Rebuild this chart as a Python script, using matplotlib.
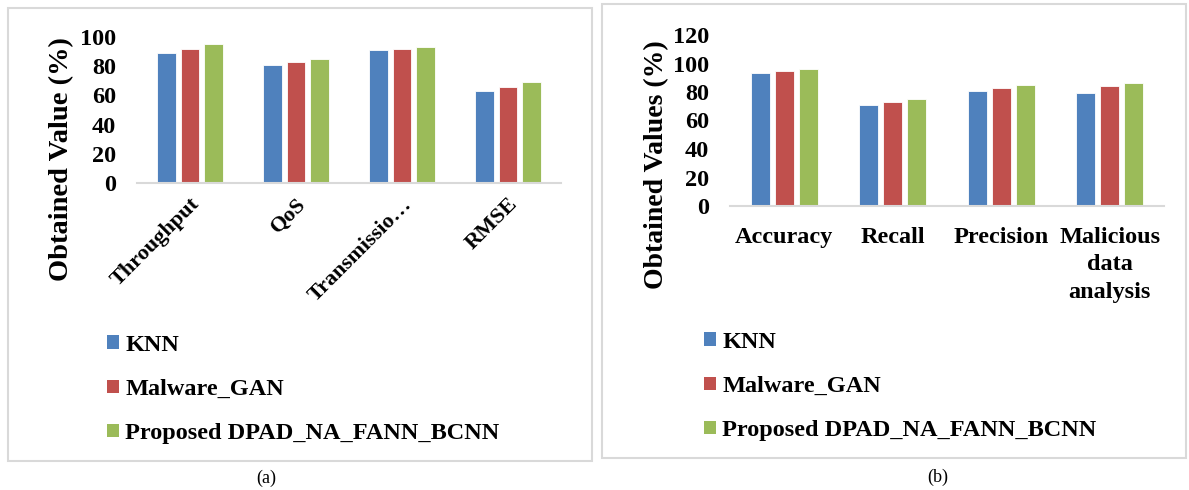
# Two grouped bar charts, (a) network metrics and (b) detection metrics
import matplotlib
matplotlib.use("Agg")
import matplotlib.pyplot as plt
import numpy as np
from matplotlib.patches import Rectangle, Patch

plt.rcParams['font.family'] = ['Liberation Serif', 'DejaVu Serif']
plt.rcParams['font.weight'] = 'bold'
plt.rcParams['axes.labelweight'] = 'bold'

# --- Data ---
methods = ["KNN", "Malware_GAN", "Proposed DPAD_NA_FANN_BCNN"]
colors = ["#4F81BD", "#C0504D", "#9BBB59"]

cats_a = ["Throughput", "QoS", "Transmissio…", "RMSE"]
knn_a = [89, 81, 91, 63]
gan_a = [92, 83, 92, 66]
prop_a = [95, 85, 93, 69]

cats_b = ["Accuracy", "Recall", "Precision", "Malicious\ndata\nanalysis"]
knn_b = [93, 71, 81, 79]
gan_b = [95, 73, 83, 84]
prop_b = [96, 75, 85, 86]

W, H = 1189, 490
fig = plt.figure(figsize=(W / 100, H / 100), dpi=100)


def px_axes(left, top, right, bottom):
    return fig.add_axes([left / W, 1 - bottom / H, (right - left) / W, (bottom - top) / H])


def draw_bars(ax, cats, series, ymax):
    x = np.arange(len(cats))
    for i, vals in enumerate(series):
        ax.bar(x + (i - 1) * 0.222, vals, width=0.175, color=colors[i],
               edgecolor="white", linewidth=0.6, label=methods[i])
    ax.set_xlim(-0.5, len(cats) - 0.5)
    ax.set_ylim(0, ymax)
    ax.set_yticks(np.arange(0, ymax + 1, 20))
    for s in ["top", "right", "left"]:
        ax.spines[s].set_visible(False)
    ax.spines["bottom"].set_color("#d9d9d9")
    ax.spines["bottom"].set_linewidth(1.5)
    ax.tick_params(axis="y", length=0, pad=15, labelsize=17.5)
    ax.set_xticks(x)
    return x


# Panel borders
fig.add_artist(Rectangle((8 / W, 1 - 461 / H), 584 / W, 453 / H, transform=fig.transFigure,
                         fill=False, ec="#d9d9d9", lw=1.5))
fig.add_artist(Rectangle((602 / W, 1 - 458 / H), 584 / W, 454 / H, transform=fig.transFigure,
                         fill=False, ec="#d9d9d9", lw=1.5))

# (a)
ax1 = px_axes(137, 37, 561, 183)
draw_bars(ax1, cats_a, [knn_a, gan_a, prop_a], 100)
ax1.set_xticklabels(cats_a, rotation=45, ha="right", rotation_mode="anchor", fontsize=16)
ax1.tick_params(axis="x", length=0, pad=8)
ax1.set_ylabel("Obtained Value (%)", fontsize=20.5)
ax1.yaxis.set_label_coords((74 - 137) / 424, (183 - 159) / 146)

# (b)
ax2 = px_axes(730, 35, 1164, 206)
draw_bars(ax2, cats_b, [knn_b, gan_b, prop_b], 120)
ax2.set_xticklabels(cats_b, fontsize=17.5, linespacing=1.4)
ax2.tick_params(axis="x", length=0, pad=15)
ax2.set_ylabel("Obtained Values (%)", fontsize=20)
ax2.yaxis.set_label_coords((669 - 730) / 434, (206 - 165) / 171)

# Legends
handles = [Patch(facecolor=c) for c in colors]
for lx, ly in [(107, 335), (704, 332)]:
    fig.legend(handles, methods, loc="upper left", bbox_to_anchor=(lx / W, 1 - ly / H),
               frameon=False, fontsize=17.5, handlelength=0.5, handleheight=0.5,
               handletextpad=0.25, labelspacing=0.95, borderaxespad=0, borderpad=0)

fig.text(266 / W, 1 - 478 / H, "(a)", ha="center", va="center", fontsize=13, fontweight="normal")
fig.text(938 / W, 1 - 477 / H, "(b)", ha="center", va="center", fontsize=13, fontweight="normal")

plt.savefig("out.png", dpi=100)
